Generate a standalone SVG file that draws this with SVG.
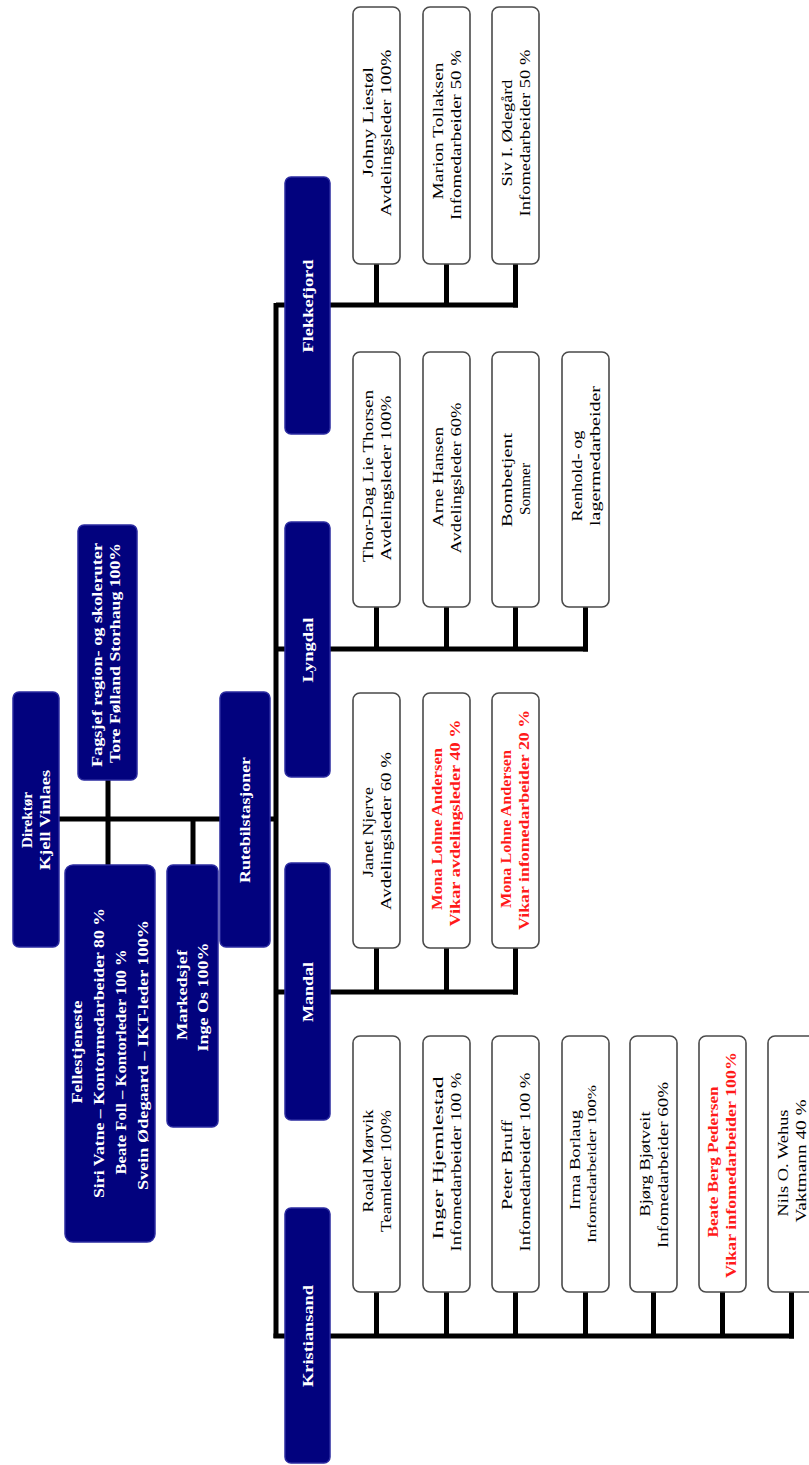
<svg xmlns="http://www.w3.org/2000/svg" width="809" height="1465" viewBox="0 0 809 1465">
<style>
.bg{fill:#ffffff}
.dk{fill:#02027e;stroke:#2b2ba0;stroke-width:1.5}
.ch{fill:#ffffff;stroke:#4a4a4a;stroke-width:1.6}
.ln{stroke:#000000;stroke-width:5;fill:none}
.wt{font-family:"Liberation Serif","Times New Roman",serif;font-weight:bold;font-size:15px;fill:#ffffff;text-anchor:middle;dominant-baseline:central}
.bt{font-family:"Liberation Serif","Times New Roman",serif;font-size:15px;fill:#000000;text-anchor:middle;dominant-baseline:central}
.rt{font-family:"Liberation Serif","Times New Roman",serif;font-weight:bold;font-size:14px;fill:#ff1a1a;text-anchor:middle;dominant-baseline:central}
</style>
<rect class="bg" x="0" y="0" width="809" height="1465"/>

<g id="connectors">
  <line class="ln" x1="59" y1="819" x2="276" y2="819"/>
  <line class="ln" x1="108" y1="780" x2="108" y2="866"/>
  <line class="ln" x1="193" y1="819" x2="193" y2="866"/>
  <line class="ln" x1="276" y1="303" x2="276" y2="1338"/>
  <line class="ln" x1="276" y1="305" x2="518" y2="305"/>
  <line class="ln" x1="376.5" y1="264" x2="376.5" y2="305"/>
  <line class="ln" x1="446.5" y1="264" x2="446.5" y2="305"/>
  <line class="ln" x1="515.5" y1="264" x2="515.5" y2="307.5"/>
  <line class="ln" x1="276" y1="649" x2="588" y2="649"/>
  <line class="ln" x1="376.5" y1="607" x2="376.5" y2="649"/>
  <line class="ln" x1="446.5" y1="607" x2="446.5" y2="649"/>
  <line class="ln" x1="515.5" y1="607" x2="515.5" y2="649"/>
  <line class="ln" x1="585.5" y1="607" x2="585.5" y2="651.5"/>
  <line class="ln" x1="276" y1="992" x2="518" y2="992"/>
  <line class="ln" x1="376.5" y1="948" x2="376.5" y2="992"/>
  <line class="ln" x1="446.5" y1="948" x2="446.5" y2="992"/>
  <line class="ln" x1="515.5" y1="948" x2="515.5" y2="994.5"/>
  <line class="ln" x1="273.5" y1="1336" x2="794" y2="1336"/>
  <line class="ln" x1="376.5" y1="1292" x2="376.5" y2="1336"/>
  <line class="ln" x1="446.5" y1="1292" x2="446.5" y2="1336"/>
  <line class="ln" x1="515.5" y1="1292" x2="515.5" y2="1336"/>
  <line class="ln" x1="585.5" y1="1292" x2="585.5" y2="1336"/>
  <line class="ln" x1="653.5" y1="1292" x2="653.5" y2="1336"/>
  <line class="ln" x1="722.5" y1="1292" x2="722.5" y2="1336"/>
  <line class="ln" x1="791.5" y1="1292" x2="791.5" y2="1338.5"/>
</g>

<g id="direktor">
  <rect class="dk" x="13" y="692" width="46" height="255" rx="6"/>
  <text class="wt" transform="translate(27,820) rotate(-90)" textLength="56" lengthAdjust="spacingAndGlyphs">Direktør</text>
  <text class="wt" transform="translate(45,820) rotate(-90)" textLength="100" lengthAdjust="spacingAndGlyphs">Kjell Vinlaes</text>
</g>

<g id="fagsjef">
  <rect class="dk" x="78" y="525" width="59" height="255" rx="6"/>
  <text class="wt" transform="translate(97,655) rotate(-90)" textLength="224" lengthAdjust="spacingAndGlyphs">Fagsjef region- og skoleruter</text>
  <text class="wt" transform="translate(115,653) rotate(-90)" textLength="220" lengthAdjust="spacingAndGlyphs">Tore Følland Storhaug 100%</text>
</g>

<g id="fellestjeneste">
  <rect class="dk" x="65" y="865" width="90" height="377" rx="8"/>
  <text class="wt" transform="translate(77,1052) rotate(-90)" textLength="103" lengthAdjust="spacingAndGlyphs">Fellestjeneste</text>
  <text class="wt" transform="translate(99,1053) rotate(-90)" textLength="290" lengthAdjust="spacingAndGlyphs">Siri Vatne – Kontormedarbeider 80 %</text>
  <text class="wt" transform="translate(121,1062) rotate(-90)" textLength="225" lengthAdjust="spacingAndGlyphs">Beate Foll – Kontorleder 100 %</text>
  <text class="wt" transform="translate(143,1055) rotate(-90)" textLength="270" lengthAdjust="spacingAndGlyphs">Svein Ødegaard – IKT-leder 100%</text>
</g>

<g id="markedsjef">
  <rect class="dk" x="167" y="865" width="51" height="262" rx="6"/>
  <text class="wt" transform="translate(182,995) rotate(-90)" textLength="90" lengthAdjust="spacingAndGlyphs">Markedsjef</text>
  <text class="wt" transform="translate(203,997) rotate(-90)" textLength="109" lengthAdjust="spacingAndGlyphs">Inge Os 100%</text>
</g>

<g id="rutebilstasjoner">
  <rect class="dk" x="220" y="692" width="50" height="255" rx="6"/>
  <text class="wt" transform="translate(245,820) rotate(-90)" textLength="126" lengthAdjust="spacingAndGlyphs">Rutebilstasjoner</text>
</g>

<g id="flekkefjord">
  <rect class="dk" x="285" y="177" width="45" height="257" rx="6"/>
  <text class="wt" transform="translate(307.5,306) rotate(-90)" textLength="93" lengthAdjust="spacingAndGlyphs">Flekkefjord</text>
</g>
<g id="lyngdal">
  <rect class="dk" x="285" y="522" width="45" height="255" rx="6"/>
  <text class="wt" transform="translate(307.5,650) rotate(-90)" textLength="65" lengthAdjust="spacingAndGlyphs">Lyngdal</text>
</g>
<g id="mandal">
  <rect class="dk" x="285" y="863" width="45" height="257" rx="6"/>
  <text class="wt" transform="translate(307.5,992) rotate(-90)" textLength="60" lengthAdjust="spacingAndGlyphs">Mandal</text>
</g>
<g id="kristiansand">
  <rect class="dk" x="285" y="1208" width="45" height="255" rx="6"/>
  <text class="wt" transform="translate(307.5,1336) rotate(-90)" textLength="102" lengthAdjust="spacingAndGlyphs">Kristiansand</text>
</g>

<g id="f1">
  <rect class="ch" x="353" y="7" width="47" height="257" rx="7"/>
  <text class="bt" transform="translate(367.5,122) rotate(-90)" textLength="110" lengthAdjust="spacingAndGlyphs">Johny Liestøl</text>
  <text class="bt" transform="translate(385.5,133) rotate(-90)" textLength="167" lengthAdjust="spacingAndGlyphs">Avdelingsleder 100%</text>
</g>
<g id="f2">
  <rect class="ch" x="423" y="7" width="47" height="257" rx="7"/>
  <text class="bt" transform="translate(437.5,131) rotate(-90)" textLength="137" lengthAdjust="spacingAndGlyphs">Marion Tollaksen</text>
  <text class="bt" transform="translate(455.5,135) rotate(-90)" textLength="170" lengthAdjust="spacingAndGlyphs">Infomedarbeider 50 %</text>
</g>
<g id="f3">
  <rect class="ch" x="492" y="7" width="47" height="257" rx="7"/>
  <text class="bt" transform="translate(506.5,133) rotate(-90)" textLength="107" lengthAdjust="spacingAndGlyphs">Siv I. Ødegård</text>
  <text class="bt" transform="translate(524.5,133) rotate(-90)" textLength="167" lengthAdjust="spacingAndGlyphs">Infomedarbeider 50 %</text>
</g>

<g id="l1">
  <rect class="ch" x="353" y="352" width="47" height="255" rx="7"/>
  <text class="bt" transform="translate(367.5,476) rotate(-90)" textLength="172" lengthAdjust="spacingAndGlyphs">Thor-Dag Lie Thorsen</text>
  <text class="bt" transform="translate(385.5,478) rotate(-90)" textLength="165" lengthAdjust="spacingAndGlyphs">Avdelingsleder 100%</text>
</g>
<g id="l2">
  <rect class="ch" x="423" y="352" width="47" height="255" rx="7"/>
  <text class="bt" transform="translate(437.5,477) rotate(-90)" textLength="100" lengthAdjust="spacingAndGlyphs">Arne Hansen</text>
  <text class="bt" transform="translate(455.5,478) rotate(-90)" textLength="151" lengthAdjust="spacingAndGlyphs">Avdelingsleder 60%</text>
</g>
<g id="l3">
  <rect class="ch" x="492" y="352" width="47" height="255" rx="7"/>
  <text class="bt" transform="translate(506.5,480) rotate(-90)" textLength="94" lengthAdjust="spacingAndGlyphs">Bombetjent</text>
  <text class="bt" transform="translate(524.5,489) rotate(-90)" textLength="52" lengthAdjust="spacingAndGlyphs">Sommer</text>
</g>
<g id="l4">
  <rect class="ch" x="562" y="352" width="47" height="255" rx="7"/>
  <text class="bt" transform="translate(576.5,476) rotate(-90)" textLength="91" lengthAdjust="spacingAndGlyphs">Renhold- og</text>
  <text class="bt" transform="translate(594.5,456) rotate(-90)" textLength="140" lengthAdjust="spacingAndGlyphs">lagermedarbeider</text>
</g>

<g id="m1">
  <rect class="ch" x="353" y="693" width="47" height="255" rx="7"/>
  <text class="bt" transform="translate(367.5,832) rotate(-90)" textLength="90" lengthAdjust="spacingAndGlyphs">Janet Njerve</text>
  <text class="bt" transform="translate(385.5,831) rotate(-90)" textLength="158" lengthAdjust="spacingAndGlyphs">Avdelingsleder 60 %</text>
</g>
<g id="m2">
  <rect class="ch" x="423" y="693" width="47" height="255" rx="7"/>
  <text class="rt" transform="translate(437.5,829) rotate(-90)" textLength="162" lengthAdjust="spacingAndGlyphs">Mona Lohne Andersen</text>
  <text class="rt" transform="translate(455.5,823) rotate(-90)" textLength="207" lengthAdjust="spacingAndGlyphs">Vikar avdelingsleder 40 %</text>
</g>
<g id="m3">
  <rect class="ch" x="492" y="693" width="47" height="255" rx="7"/>
  <text class="rt" transform="translate(506.5,829) rotate(-90)" textLength="158" lengthAdjust="spacingAndGlyphs">Mona Lohne Andersen</text>
  <text class="rt" transform="translate(524.5,820) rotate(-90)" textLength="220" lengthAdjust="spacingAndGlyphs">Vikar infomedarbeider 20 %</text>
</g>

<g id="k1">
  <rect class="ch" x="353" y="1036" width="47" height="256" rx="7"/>
  <text class="bt" transform="translate(367.5,1161) rotate(-90)" textLength="103" lengthAdjust="spacingAndGlyphs">Roald Mørvik</text>
  <text class="bt" transform="translate(385.5,1171) rotate(-90)" textLength="122" lengthAdjust="spacingAndGlyphs">Teamleder 100%</text>
</g>
<g id="k2">
  <rect class="ch" x="423" y="1036" width="47" height="256" rx="7"/>
  <text class="bt" transform="translate(437.5,1158) rotate(-90)" textLength="163" lengthAdjust="spacingAndGlyphs">Inger Hjemlestad</text>
  <text class="bt" transform="translate(455.5,1162) rotate(-90)" textLength="179" lengthAdjust="spacingAndGlyphs">Infomedarbeider 100 %</text>
</g>
<g id="k3">
  <rect class="ch" x="492" y="1036" width="47" height="256" rx="7"/>
  <text class="bt" transform="translate(506.5,1165) rotate(-90)" textLength="90" lengthAdjust="spacingAndGlyphs">Peter Bruff</text>
  <text class="bt" transform="translate(524.5,1162) rotate(-90)" textLength="179" lengthAdjust="spacingAndGlyphs">Infomedarbeider 100 %</text>
</g>
<g id="k4">
  <rect class="ch" x="562" y="1036" width="47" height="256" rx="7"/>
  <text class="bt" transform="translate(575,1160) rotate(-90)" textLength="100" lengthAdjust="spacingAndGlyphs">Irma Borlaug</text>
  <text class="bt" style="font-size:12px" transform="translate(592,1164) rotate(-90)" textLength="158" lengthAdjust="spacingAndGlyphs">Infomedarbeider 100%</text>
</g>
<g id="k5">
  <rect class="ch" x="630" y="1036" width="47" height="256" rx="7"/>
  <text class="bt" transform="translate(644.5,1164) rotate(-90)" textLength="105" lengthAdjust="spacingAndGlyphs">Bjørg Bjøtveit</text>
  <text class="bt" transform="translate(662.5,1165) rotate(-90)" textLength="166" lengthAdjust="spacingAndGlyphs">Infomedarbeider 60%</text>
</g>
<g id="k6">
  <rect class="ch" x="699" y="1036" width="47" height="256" rx="7"/>
  <text class="rt" transform="translate(713.5,1162) rotate(-90)" textLength="151" lengthAdjust="spacingAndGlyphs">Beate Berg Pedersen</text>
  <text class="rt" transform="translate(731.5,1165) rotate(-90)" textLength="226" lengthAdjust="spacingAndGlyphs">Vikar infomedarbeider 100%</text>
</g>
<g id="k7">
  <rect class="ch" x="768" y="1036" width="47" height="256" rx="7"/>
  <text class="bt" transform="translate(782.5,1163) rotate(-90)" textLength="107" lengthAdjust="spacingAndGlyphs">Nils O. Wehus</text>
  <text class="bt" transform="translate(800.5,1161) rotate(-90)" textLength="123" lengthAdjust="spacingAndGlyphs">Vaktmann 40 %</text>
</g>
</svg>
